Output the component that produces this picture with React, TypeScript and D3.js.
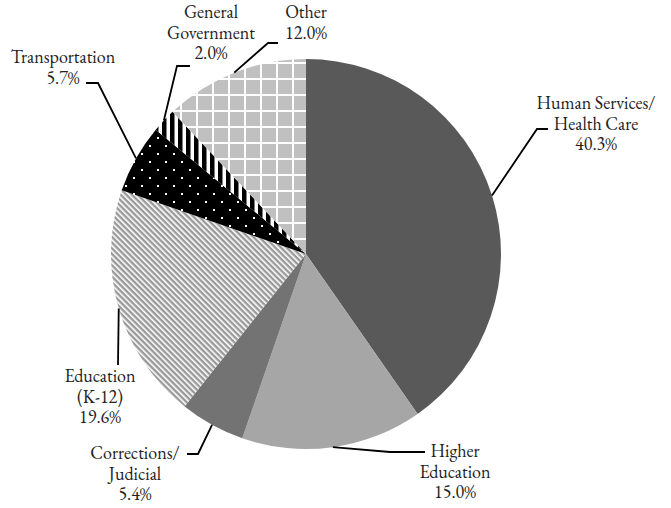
import React, { useEffect } from "react";
import * as d3 from "d3";

// spending shares, clockwise from 12 o'clock
const categories = [
  "Human Services/\nHealth Care",
  "Higher\nEducation",
  "Corrections/\nJudicial",
  "Education\n(K-12)",
  "Transportation",
  "General\nGovernment",
  "Other",
];
const shares = [40.3, 15.0, 5.4, 19.6, 5.7, 2.0, 12.0];
const fills = [
  "#595959",
  "#a6a6a6",
  "#737373",
  "url(#hatch)",
  "url(#dots)",
  "url(#vstripes)",
  "url(#grid)",
];

// label anchor (center x, first baseline) + leader elbow / end
const labelPos = [
  { x: 596, y: 109, elbow: [537, 129], end: [548, 129] },
  { x: 455, y: 457, elbow: [390, 452], end: [425, 452] },
  { x: 135, y: 459, elbow: [198, 454], end: [187, 454] },
  { x: 100, y: 382, elbow: [118, 365], end: [118, 365] },
  { x: 63, y: 63, elbow: [98, 83], end: [86, 83] },
  { x: 211, y: 18, elbow: [177, 66], end: [190, 66] },
  { x: 306, y: 18, elbow: [268, 43], end: [278, 43] },
];

const W = 671;
const H = 508;
const cx = 306;
const cy = 254;
const R = 195;
const lineH = 20.5;
const FONT = "'EB Garamond', 'Liberation Serif', monospace";

export default function App() {
  useEffect(() => {
    document.body.style.margin = "0";
  }, []);

  const pie = d3
    .pie<number>()
    .sort(null)
    .value((d) => d);
  const arcs = pie(shares);
  const arc = d3.arc<d3.PieArcDatum<number>>().innerRadius(0).outerRadius(R);
  const edge = d3.arc<d3.PieArcDatum<number>>().innerRadius(R).outerRadius(R);

  return (
    <svg width={W} height={H} style={{ display: "block" }}>
      <defs>
        <pattern id="hatch" patternUnits="userSpaceOnUse" width="4" height="4" patternTransform="rotate(45)">
          <rect width="4" height="4" fill="#ffffff" />
          <rect width="4" height="2.4" fill="#999999" />
        </pattern>
        <pattern id="dots" patternUnits="userSpaceOnUse" width="16" height="16">
          <rect width="16" height="16" fill="#000" />
          <rect x="3" y="3" width="2" height="2" fill="#fff" />
          <rect x="11" y="11" width="2" height="2" fill="#fff" />
        </pattern>
        <pattern id="vstripes" patternUnits="userSpaceOnUse" width="8" height="8">
          <rect width="8" height="8" fill="#fff" />
          <rect width="4.5" height="8" fill="#000" />
        </pattern>
        <pattern id="grid" patternUnits="userSpaceOnUse" width="16" height="16" x="4" y="2">
          <rect width="16" height="16" fill="#fff" />
          <rect width="14" height="14" fill="#c0c0c0" />
        </pattern>
      </defs>
      <g transform={`translate(${cx},${cy})`}>
        {arcs.map((a, i) => (
          <path key={i} d={arc(a)!} fill={fills[i]} />
        ))}
      </g>
      {arcs.map((a, i) => {
        const [ex, ey] = edge.centroid(a);
        const p = labelPos[i];
        const pts = [[cx + ex, cy + ey], p.elbow, p.end];
        return (
          <polyline
            key={"l" + i}
            points={pts.map((q) => q.join(",")).join(" ")}
            fill="none"
            stroke="#000"
            strokeWidth={1.8}
          />
        );
      })}
      {categories.map((c, i) => {
        const p = labelPos[i];
        const lines = [...c.split("\n"), shares[i].toFixed(1) + "%"];
        return (
          <text
            key={"t" + i}
            x={p.x}
            y={p.y}
            textAnchor="middle"
            style={{ fontFamily: FONT, fontSize: "18px" }}
            fill="#222"
          >
            {lines.map((s, j) => (
              <tspan key={j} x={p.x} y={p.y + j * lineH}>
                {s}
              </tspan>
            ))}
          </text>
        );
      })}
    </svg>
  );
}
